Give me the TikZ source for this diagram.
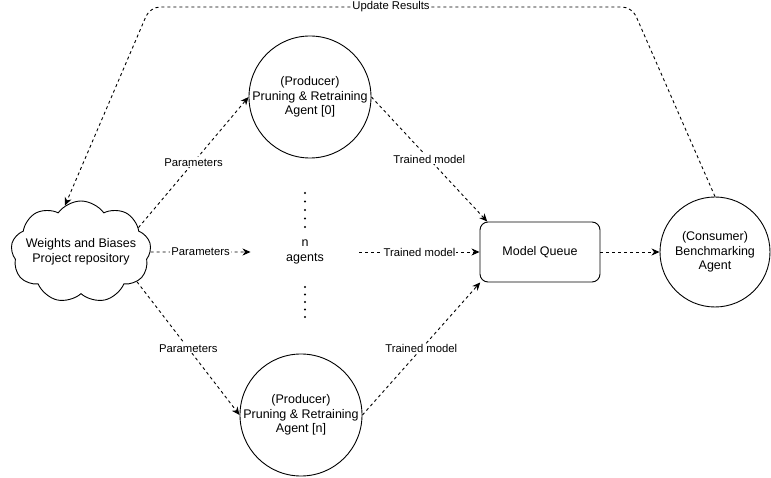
\documentclass[tikz,border=0pt]{standalone}
\usepackage{fontspec}
\setmainfont{Liberation Sans}
\usetikzlibrary{shapes.symbols, positioning, arrows.meta}

\begin{document}
\begin{tikzpicture}[
    x = 1pt,
    y = -1pt,
    > = {Stealth[length=8pt, width=7pt, inset=2.5pt]},
    line width = 0.9pt,
    font = \fontsize{12.5}{14.5}\selectfont
]

% Setup the styles for the agents, queue and flows
\tikzstyle{agent}=[draw=black, circle, minimum size=120pt, inner sep=0pt, align=center]
\tikzstyle{mqbox}=[draw=black, rounded corners=8pt, minimum width=120pt, minimum height=60pt]
\tikzstyle{flow}=[->, dash pattern=on 3pt off 3pt]
\tikzstyle{lbl}=[fill=white, inner sep=1pt, font=\fontsize{11.3}{13}\selectfont]

\useasboundingbox (0,0) rectangle (771,478);

% Draw the repository, agents and queue
\node[cloud, draw=black, cloud puffs=9, cloud puff arc=110, aspect=1.6,
      inner xsep=-8pt, inner ysep=-4pt, align=center]
      (wandb) at (81,252) {Weights and Biases\\Project repository};
\node[agent] (prod0) at (310,97) {(Producer)\\Pruning \& Retraining\\Agent [0]};
\node[agent] (prodn) at (301,415) {(Producer)\\Pruning \& Retraining\\Agent [n]};
\node[minimum width=108pt, inner sep=0pt, align=center] (nagents) at (305,252) {n\\agents};
\node[mqbox] (mq) at (540,252) {Model Queue};
\node[agent, minimum size=110pt] (consumer) at (715,252) {(Consumer)\\Benchmarking\\Agent};

% Draw the dots between the agents
\foreach \y in {193,201.5,210,218.5,227,287,294.5,302,309.5,317}
    \fill (305,\y) circle (1.1pt);

% Draw the parameter flows
\draw[flow] (wandb.23) -- node[lbl]{Parameters} (prod0.west);
\draw[flow] (wandb.east) -- node[lbl]{Parameters} (nagents.west);
\draw[flow] (wandb.-28) -- node[lbl]{Parameters} (prodn.west);

% Draw the trained model flows
\draw[flow] (prod0.east) -- node[lbl]{Trained model} (mq.150);
\draw[flow] (nagents.east) -- node[lbl]{Trained model} (mq.west);
\draw[flow] (prodn.east) -- node[lbl]{Trained model} (mq.207);
\draw[flow] (mq.east) -- (consumer.west);

% Draw the feedback
\coordinate (ur) at (632,7);
\coordinate (ul) at (150,7);
\draw[flow, rounded corners=10pt] (consumer.north) -- (ur) -- node[lbl]{Update Results} (ul) -- (wandb.109);

\end{tikzpicture}
\end{document}
